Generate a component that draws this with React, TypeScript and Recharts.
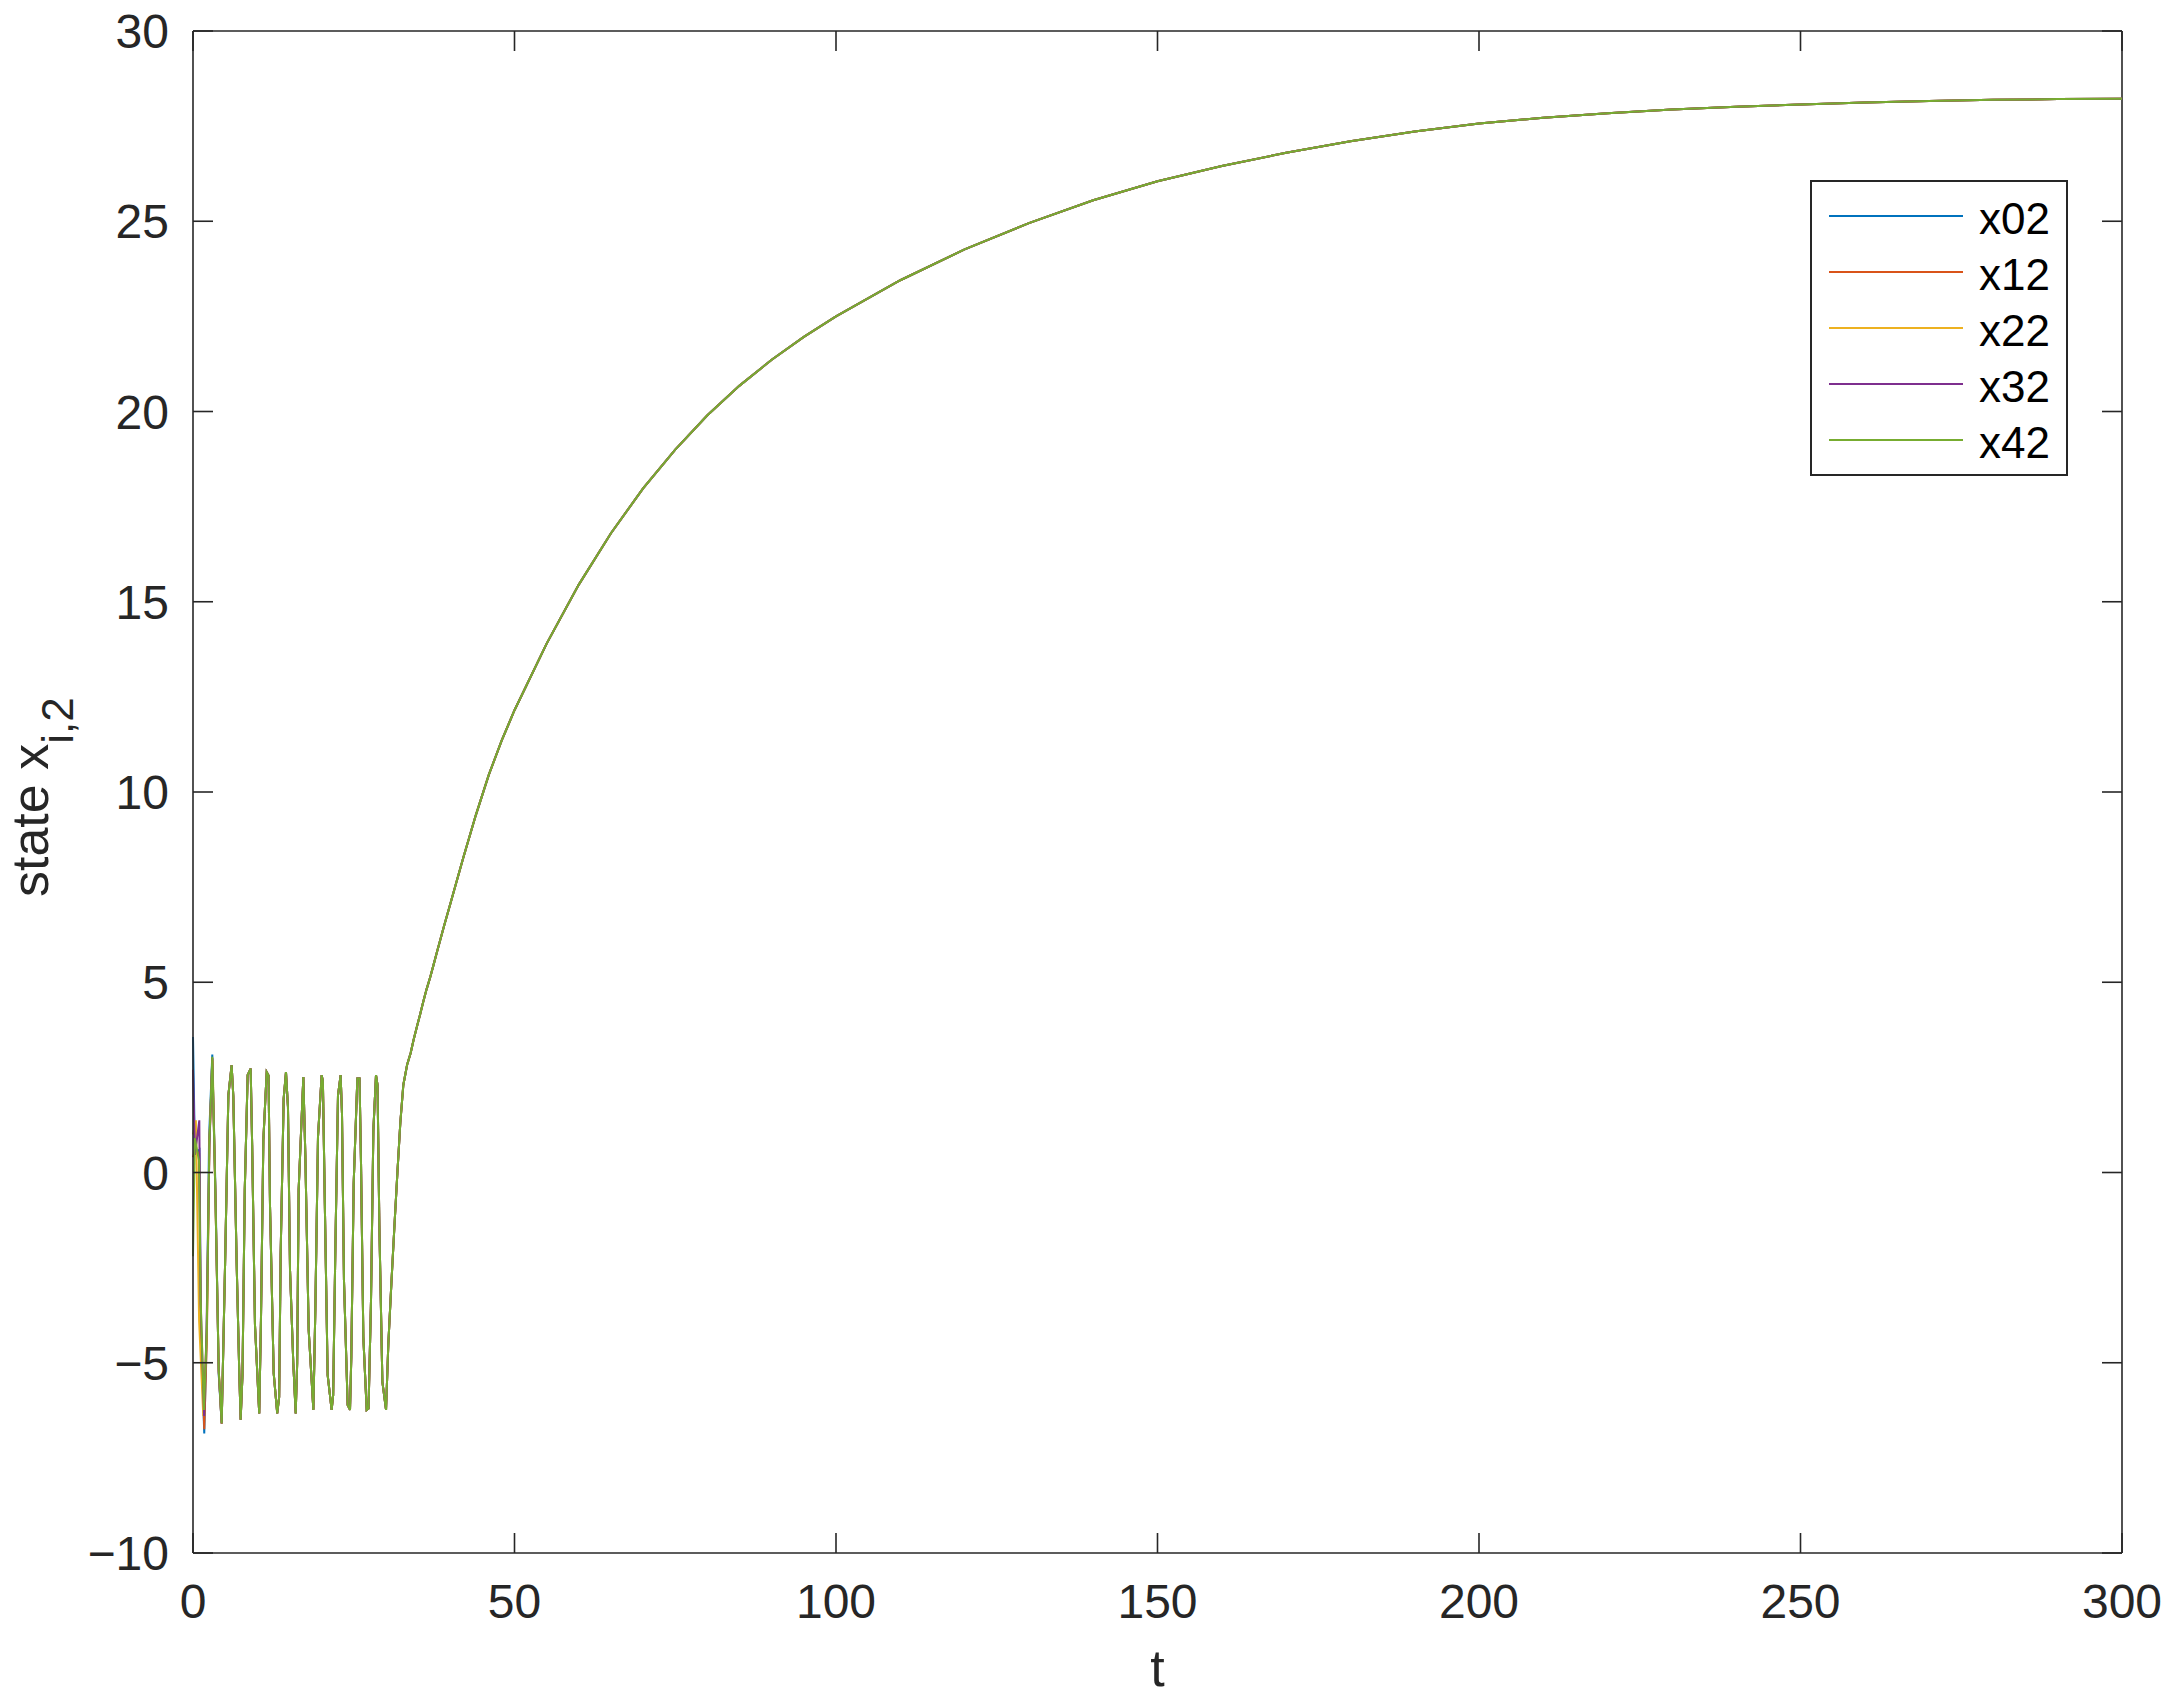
import { LineChart, Line, XAxis, YAxis, Legend, ReferenceLine } from "recharts";

const xTicks = [0, 50, 100, 150, 200, 250, 300];
const yTicks = [-10, -5, 0, 5, 10, 15, 20, 25, 30];
const seriesNames = ["x02", "x12", "x22", "x32", "x42"];
const seriesColors = ["#0072BD", "#D95319", "#EDB120", "#7E2F8E", "#77AC30"];

// x42 as [t, value] vertices
const x42Points: [number, number][] = [
  [0, -2.2], [0.28, 0.9], [0.95, 0.3], [1.19, -3.35], [1.71, -6.24], [2.13, -4.23],
  [2.54, 0.76], [3.0, 3.04], [3.47, -0.46], [4.0, -5.19], [4.46, -6.59], [4.98, -2.48],
  [5.5, 2.03], [6.01, 2.82], [6.27, 2.0], [6.79, -2.39], [7.2, -5.28], [7.41, -6.5],
  [7.7, -5.3], [8.05, -0.46], [8.5, 2.56], [8.97, 2.73], [9.2, 0.72], [9.64, -4.01],
  [10.3, -6.33], [10.57, -3.88], [10.94, 0.85], [11.46, 2.64], [11.75, 2.55], [11.98, -0.9],
  [12.55, -5.28], [13.1, -6.33], [13.4, -5.9], [13.63, -2.17], [14.1, 1.94], [14.46, 2.64],
  [14.77, 1.72], [15.09, -2.57], [15.6, -5.02], [15.97, -6.33], [16.2, -5.02], [16.43, -0.46],
  [17.16, 2.51], [17.47, 0.46], [17.99, -4.14], [18.72, -6.24], [19.03, -3.57], [19.44, 0.94],
  [20.01, 2.56], [20.2, 2.4], [20.53, -1.12], [20.94, -5.32], [21.56, -6.24], [21.8, -5.85],
  [22.14, -2.0], [22.55, 2.03], [22.96, 2.56], [23.17, 1.55], [23.48, -2.83], [24.05, -6.11],
  [24.42, -6.24], [24.62, -4.84], [24.99, -0.29], [25.56, 2.47], [25.9, 2.47], [26.13, 0.24],
  [26.49, -4.32], [27.01, -6.24], [27.3, -6.2], [27.68, -3.4], [28.05, 1.11], [28.46, 2.56],
  [28.7, 2.3], [28.98, -1.38], [29.45, -5.5], [30.02, -6.24], [30.38, -4.5], [30.85, -2.92],
  [31.31, -1.46], [31.78, -0.03], [32.24, 1.3], [32.71, 2.3], [33.3, 2.83], [33.85, 3.14],
  [34.3, 3.48], [34.8, 3.82], [35.3, 4.14], [35.8, 4.48], [36.3, 4.8], [36.9, 5.14],
  [37.4, 5.45], [37.9, 5.77], [39, 6.45], [40, 7.05], [42, 8.25], [44, 9.4], [46, 10.45],
  [48, 11.35], [50, 12.15], [55, 13.9], [60, 15.45], [65, 16.8], [70, 17.98], [75, 19.0],
  [80, 19.9], [85, 20.68], [90, 21.36], [95, 21.96], [100, 22.5], [110, 23.45], [120, 24.26],
  [130, 24.95], [140, 25.55], [150, 26.05], [160, 26.45], [170, 26.8], [180, 27.1],
  [190, 27.36], [200, 27.57], [210, 27.72], [220, 27.84], [230, 27.94], [240, 28.01],
  [250, 28.07], [260, 28.12], [270, 28.16], [280, 28.19], [290, 28.21], [300, 28.22],
];

// the other agents differ only in the first cycles, then lie under x42
const x02Start: [number, number][] = [
  [0, 3.56], [0.3, 0.5], [1.0, 0.6], [1.2, -4.0], [1.75, -6.86], [2.15, -4.1],
  [2.5, 0.9], [3.0, 3.1], [3.5, -0.5], [4.0, -5.3], [4.46, -6.6],
];
const x12Start: [number, number][] = [
  [0, 0.4], [0.3, 0.6], [0.95, 0.5], [1.2, -3.9], [1.75, -6.75], [2.15, -4.4],
  [2.55, 0.75], [3.0, 3.0], [3.48, -0.55], [4.0, -5.2], [4.46, -6.6],
];
const x22Start: [number, number][] = [
  [0, 1.0], [0.45, 1.37], [0.95, -3.9], [1.6, -6.4], [2.15, -4.2], [2.55, 0.8],
  [3.05, 2.95], [3.47, -0.46], [4.0, -5.2], [4.46, -6.59],
];
const x32Start: [number, number][] = [
  [0, 2.7], [0.3, 0.46], [0.98, 1.37], [1.2, -3.45], [1.72, -6.4], [2.1, -4.2],
  [2.55, 0.67], [3.0, 3.0], [3.47, -0.46], [4.0, -5.25], [4.46, -6.59],
];

const toRows = (pts: [number, number][]) => pts.map(([t, v]) => ({ t, v }));
const shared = x42Points.filter(([t]) => t > 4.5);
const seriesData = [
  toRows([...x02Start, ...shared]),
  toRows([...x12Start, ...shared]),
  toRows([...x22Start, ...shared]),
  toRows([...x32Start, ...shared]),
  toRows(x42Points),
];

const AXIS = "#262626";
const FONT = '"Liberation Sans", Arial, Helvetica, sans-serif';
const PLOT_W = 1929;
const PLOT_H = 1522;
const TICK = 20;
const fmt = (v: number) => (v < 0 ? "\u2212" + Math.abs(v) : String(v));

// ticks point inward, and are mirrored on the top / right edges of the box
function BottomTick({ x, y, payload }: any) {
  return (
    <g>
      <line x1={x} y1={y} x2={x} y2={y - TICK} stroke={AXIS} strokeWidth={1.6} />
      <line x1={x} y1={y - PLOT_H} x2={x} y2={y - PLOT_H + TICK} stroke={AXIS} strokeWidth={1.6} />
      <text x={x} y={y + 65} textAnchor="middle" fontSize={48} fontFamily={FONT} fill={AXIS}>
        {fmt(payload.value)}
      </text>
    </g>
  );
}

function LeftTick({ x, y, payload }: any) {
  return (
    <g>
      <line x1={x} y1={y} x2={x + TICK} y2={y} stroke={AXIS} strokeWidth={1.6} />
      <line x1={x + PLOT_W - TICK} y1={y} x2={x + PLOT_W} y2={y} stroke={AXIS} strokeWidth={1.6} />
      <text x={x - 24} y={y + 17} textAnchor="end" fontSize={48} fontFamily={FONT} fill={AXIS}>
        {fmt(payload.value)}
      </text>
    </g>
  );
}

const YLabel = () => (
  <text transform="rotate(-90 48 897)" x={48} y={897} fontSize={52} fontFamily={FONT} fill={AXIS}>
    state x
    <tspan fontSize={44} dy={25}>
      i,2
    </tspan>
  </text>
);

const XLabel = () => (
  <text x={1157.5} y={1686} textAnchor="middle" fontSize={52} fontFamily={FONT} fill={AXIS}>
    t
  </text>
);

function LegendBox() {
  return (
    <svg width={258} height={296} style={{ display: "block" }}>
      <rect x={1} y={1} width={256} height={294} fill="#fff" stroke={AXIS} strokeWidth={2} />
      {seriesNames.map((n, i) => (
        <g key={n}>
          <line x1={19} x2={153} y1={36 + i * 56} y2={36 + i * 56} stroke={seriesColors[i]} strokeWidth={2.2} />
          <text x={169} y={54 + i * 56} fontSize={44} fontFamily={FONT} fill="#000">
            {n}
          </text>
        </g>
      ))}
    </svg>
  );
}

export default function App() {
  return (
    <div style={{ position: "absolute", left: 0, top: 0, width: 2171, height: 1700, background: "#fff" }}>
      <LineChart width={2171} height={1700} margin={{ top: 31, right: 49, bottom: 0, left: 0 }}>
        <XAxis
          dataKey="t"
          type="number"
          domain={[0, 300]}
          ticks={xTicks}
          interval={0}
          height={147}
          tickSize={0}
          tickMargin={0}
          tickLine={false}
          tick={<BottomTick />}
          axisLine={{ stroke: AXIS, strokeWidth: 1.6 }}
          label={<XLabel />}
        />
        <YAxis
          type="number"
          domain={[-10, 30]}
          ticks={yTicks}
          interval={0}
          width={193}
          tickSize={0}
          tickMargin={0}
          tickLine={false}
          tick={<LeftTick />}
          axisLine={{ stroke: AXIS, strokeWidth: 1.6 }}
          label={<YLabel />}
        />
        <ReferenceLine y={30} stroke={AXIS} strokeWidth={1.6} />
        <ReferenceLine x={300} stroke={AXIS} strokeWidth={1.6} />
        <Legend
          layout="horizontal"
          verticalAlign="middle"
          align="center"
          content={() => <LegendBox />}
          wrapperStyle={{ left: 1810, top: 180, width: 258, height: 296 }}
        />
        {seriesData.map((d, i) => (
          <Line
            key={seriesNames[i]}
            data={d}
            dataKey="v"
            name={seriesNames[i]}
            type="linear"
            stroke={seriesColors[i]}
            strokeWidth={2}
            dot={false}
            activeDot={false}
            isAnimationActive={false}
          />
        ))}
      </LineChart>
    </div>
  );
}
